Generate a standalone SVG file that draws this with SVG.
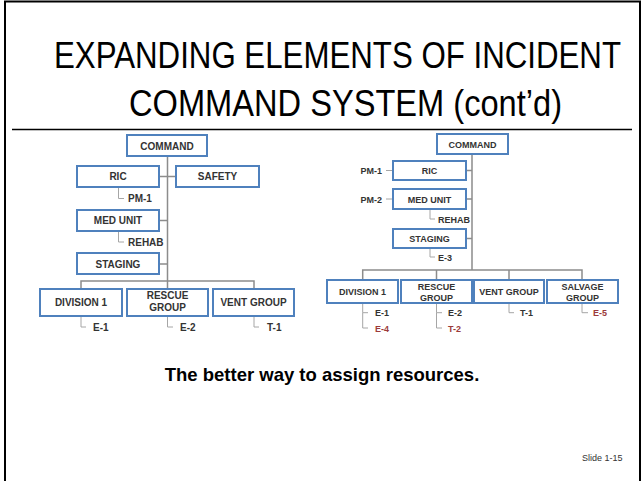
<svg xmlns="http://www.w3.org/2000/svg" width="644" height="481" viewBox="0 0 644 481">
<style>
.frame{fill:none;stroke:#000;stroke-width:2}
.box{fill:#fff;stroke:#4F81BD;stroke-width:2}
.ln{fill:none;stroke:#8c8c8c;stroke-width:1.5}
.br{fill:none;stroke:#a6a6a6;stroke-width:1}
.t1{font-family:"Liberation Sans",Arial,sans-serif;font-weight:bold;font-size:10px;fill:#333;text-anchor:middle}
.t2{font-family:"Liberation Sans",Arial,sans-serif;font-weight:bold;font-size:9px;fill:#333;text-anchor:middle}
.l1{font-family:"Liberation Sans",Arial,sans-serif;font-weight:bold;font-size:10px;fill:#333}
.l2{font-family:"Liberation Sans",Arial,sans-serif;font-weight:bold;font-size:9px;fill:#333}
.red{fill:#9b3a3a}
.title{font-family:"Liberation Sans",Arial,sans-serif;font-size:31px;fill:#000}
</style>
<rect class="frame" x="5" y="1.5" width="635" height="520"/>
<g id="title">
<text class="title" transform="translate(54,68) scale(1,1.22)" x="0" y="0" textLength="567" lengthAdjust="spacingAndGlyphs">EXPANDING ELEMENTS OF INCIDENT</text>
<text class="title" transform="translate(129,116) scale(1,1.22)" x="0" y="0" textLength="433" lengthAdjust="spacingAndGlyphs">COMMAND SYSTEM (cont’d)</text>
</g>
<line x1="12" y1="129.5" x2="632" y2="129.5" stroke="#000" stroke-width="1.5"/>

<g id="connectors">
<path class="ln" d="M167.5 156V289M159 176.5H176M159 220.5H167.5M159 264H167.5M81 289V281H254V289"/>
<path class="br" d="M118.5 187V198.5H124M118.5 231V242H124M81 316V327H86M167.5 316V327H173M254 316V327H259"/>
<path class="ln" d="M472 154V270M466 170.5H472M466 199H472M466 238.5H472M362.7 280V270H582V280M436.5 270V280M509 270V280"/>
<path class="br" d="M386 170.5H392M386 199H392M430 209V219H435M430 248V257H435M362.7 303V312.7H368M436.5 303V312.7H442M509 303V312.7H514"/>
<path class="br" stroke="#9b3a3a" d="M362.7 312.7V328H368M436.5 312.7V328H442M582 303V312.7H588"/>
</g>

<g id="L-command"><rect class="box" x="127" y="135" width="80" height="21"/><text class="t1" x="167" y="149.5">COMMAND</text></g>
<g id="L-ric"><rect class="box" x="77" y="166" width="82" height="21"/><text class="t1" x="118" y="180">RIC</text></g>
<g id="L-safety"><rect class="box" x="176" y="166" width="83" height="21"/><text class="t1" x="217.5" y="180">SAFETY</text></g>
<g id="L-pm1"><text class="l1" x="128" y="202">PM-1</text></g>
<g id="L-medunit"><rect class="box" x="77" y="210" width="82" height="21"/><text class="t1" x="118" y="224">MED UNIT</text></g>
<g id="L-rehab"><text class="l1" x="128" y="245.5">REHAB</text></g>
<g id="L-staging"><rect class="box" x="77" y="253" width="82" height="21"/><text class="t1" x="118" y="267.5">STAGING</text></g>
<g id="L-div1"><rect class="box" x="40" y="289" width="82" height="27"/><text class="t1" x="81" y="306">DIVISION 1</text></g>
<g id="L-rescue"><rect class="box" x="127" y="289" width="81" height="27"/><text class="t1" x="167.5" y="299">RESCUE</text><text class="t1" x="167.5" y="311">GROUP</text></g>
<g id="L-vent"><rect class="box" x="213" y="289" width="81" height="27"/><text class="t1" x="253.5" y="306">VENT GROUP</text></g>
<g id="L-e1"><text class="l1" x="93" y="331">E-1</text></g>
<g id="L-e2"><text class="l1" x="180" y="331">E-2</text></g>
<g id="L-t1"><text class="l1" x="267" y="331">T-1</text></g>

<g id="R-command"><rect class="box" x="437" y="134" width="71" height="20"/><text class="t2" x="472.5" y="147.5">COMMAND</text></g>
<g id="R-pm1"><text class="l2" x="382" y="174" text-anchor="end">PM-1</text></g>
<g id="R-ric"><rect class="box" x="393" y="161" width="73" height="19"/><text class="t2" x="429.5" y="174">RIC</text></g>
<g id="R-pm2"><text class="l2" x="382" y="202.5" text-anchor="end">PM-2</text></g>
<g id="R-medunit"><rect class="box" x="393" y="189" width="73" height="20"/><text class="t2" x="429.5" y="202.5">MED UNIT</text></g>
<g id="R-rehab"><text class="l2" x="438" y="222.5">REHAB</text></g>
<g id="R-staging"><rect class="box" x="393" y="229" width="73" height="19"/><text class="t2" x="429.5" y="242">STAGING</text></g>
<g id="R-e3"><text class="l2" x="438" y="260.5">E-3</text></g>
<g id="R-div1"><rect class="box" x="327" y="280" width="71" height="23"/><text class="t2" x="362.5" y="295">DIVISION 1</text></g>
<g id="R-rescue"><rect class="box" x="401" y="280" width="71" height="23"/><text class="t2" x="436.5" y="290">RESCUE</text><text class="t2" x="436.5" y="300.5">GROUP</text></g>
<g id="R-vent"><rect class="box" x="474" y="280" width="70" height="23"/><text class="t2" x="509" y="295">VENT GROUP</text></g>
<g id="R-salvage"><rect class="box" x="547" y="280" width="71" height="23"/><text class="t2" x="582.5" y="290">SALVAGE</text><text class="t2" x="582.5" y="300.5">GROUP</text></g>
<g id="R-e1"><text class="l2" x="375" y="316">E-1</text><text class="l2 red" x="375" y="331.5">E-4</text></g>
<g id="R-e2"><text class="l2" x="448" y="316">E-2</text><text class="l2 red" x="448" y="331.5">T-2</text></g>
<g id="R-t1"><text class="l2" x="520" y="316">T-1</text></g>
<g id="R-e5"><text class="l2 red" x="593" y="316">E-5</text></g>

<text x="322" y="381" font-family="'Liberation Sans',Arial,sans-serif" font-weight="bold" font-size="18.5" text-anchor="middle" fill="#000">The better way to assign resources.</text>
<text x="582" y="461" font-family="'Liberation Sans',Arial,sans-serif" font-size="9" fill="#333">Slide 1-15</text>
</svg>
